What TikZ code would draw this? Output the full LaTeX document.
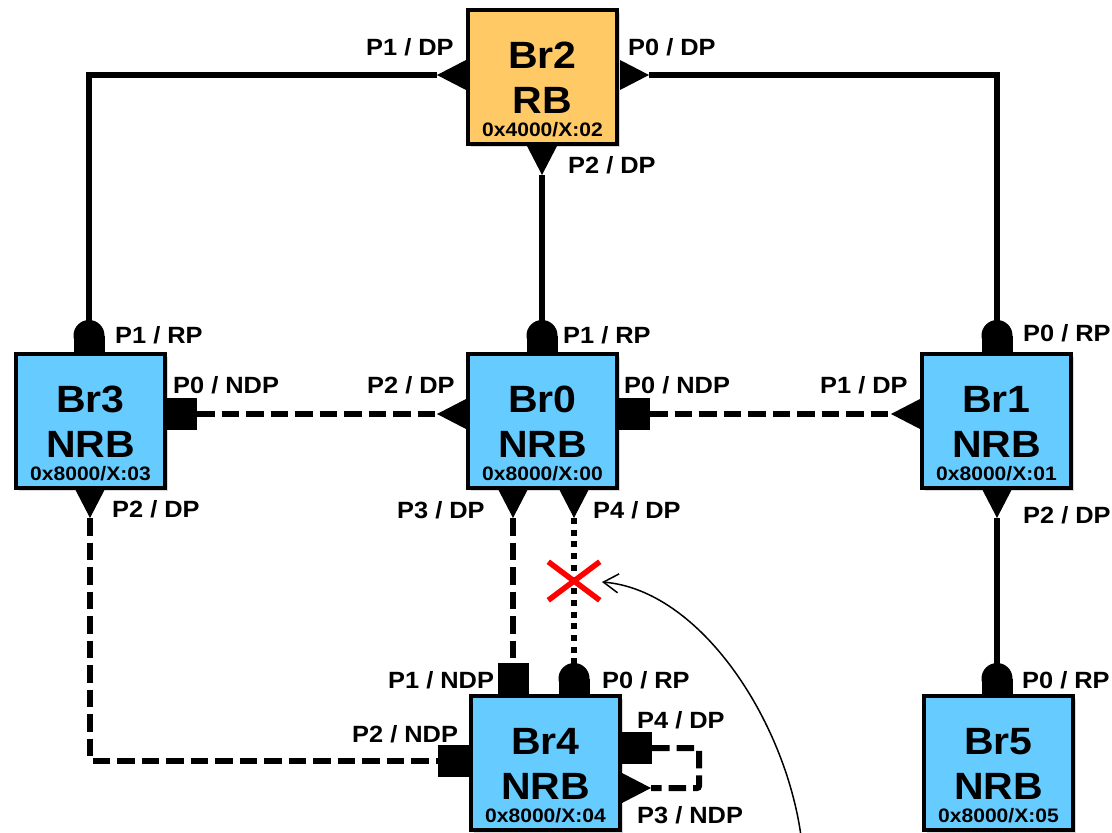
\documentclass[tikz,border=0pt]{standalone}
\usepackage{fontspec}
\setmainfont{Liberation Sans}[FakeStretch=1.08]
\usetikzlibrary{shadows,shapes.misc,arrows.meta}
\definecolor{rbfill}{RGB}{255,201,102}
\definecolor{nrbfill}{RGB}{102,204,255}
\definecolor{xred}{RGB}{255,0,0}
\newcommand\bridge[7]{%
  \node[bbox, fill=#4] (#1) at ({#2},{#3+68.75}) {};
  \node[ttl, anchor=base] (#1-name) at ({#2},{#3+60}) {#5};
  \node[ttl, anchor=base] (#1-kind) at ({#2},{#3+105.5}) {#6};
  \node[hexlbl, anchor=base] (#1-id) at ({#2},{#3+128.5}) {#7};
}
\newcommand\dpL[1]{\fill (#1) -- ++(29,-15) -- ++(0,30) -- cycle;}
\newcommand\dpR[1]{\fill (#1) -- ++(-29,-15) -- ++(0,30) -- cycle;}
\newcommand\dpD[1]{\fill (#1) -- ++(-15,-29) -- ++(30,0) -- cycle;}
\newcommand\rpT[1]{\fill (#1) circle[radius=15.5pt]; \fill (#1) ++(-15.5,0) rectangle ++(31,17.5);}
% NDP blocks, coordinate at the outer edge midpoint
\newcommand\ndpRt[1]{\fill (#1) ++(-31,-16) rectangle ++(31,32);}
\newcommand\ndpLt[1]{\fill (#1) ++(0,-16) rectangle ++(31,32);}
\newcommand\ndpUp[1]{\fill (#1) ++(-15.5,0) rectangle ++(31,31.5);}
\begin{document}
\begin{tikzpicture}[x=1pt,y=-1pt,
  bbox/.style={draw=black, line width=4pt, minimum width=149pt, minimum height=133.5pt, inner sep=0pt,
    drop shadow={shadow xshift=3pt, shadow yshift=-3pt, opacity=0.3}},
  ttl/.style={font=\bfseries\fontsize{38}{40}\selectfont, inner sep=0pt},
  hexlbl/.style={font=\bfseries\fontsize{19.5}{22}\selectfont, inner sep=0pt},
  plbl/.style={font=\bfseries\fontsize{23.5}{26}\selectfont, inner sep=0pt, anchor=base west},
  wire/.style={line width=5.5pt},
  dwire/.style={line width=6pt, dash pattern=on 17.5pt off 7pt},
  owire/.style={line width=6pt, dash pattern=on 6pt off 5.7pt}]
\useasboundingbox (0,0) rectangle (1112,833);

% bridges
\bridge{br2}{542.5}{8}{rbfill}{Br2}{RB}{0x4000/X:02}
\bridge{br3}{90.5}{352}{nrbfill}{Br3}{NRB}{0x8000/X:03}
\bridge{br0}{542.5}{352}{nrbfill}{Br0}{NRB}{0x8000/X:00}
\bridge{br1}{996.5}{352}{nrbfill}{Br1}{NRB}{0x8000/X:01}
\bridge{br4}{545.5}{694}{nrbfill}{Br4}{NRB}{0x8000/X:04}
\bridge{br5}{998.5}{694}{nrbfill}{Br5}{NRB}{0x8000/X:05}

% port coordinates
\coordinate (b2p1) at (437,75);
\coordinate (b2p0) at (649,75);
\coordinate (b2p2) at (542,175);
\coordinate (b3p1) at (89,335.5);
\coordinate (b3p0) at (197,414);
\coordinate (b3p2) at (90,518);
\coordinate (b0p1) at (542,335.5);
\coordinate (b0p2) at (437,414);
\coordinate (b0p0) at (650,414);
\coordinate (b0p3) at (513,518);
\coordinate (b0p4) at (574,518);
\coordinate (b1p0) at (997,335.5);
\coordinate (b1p1) at (891,414);
\coordinate (b1p2) at (997,518);
\coordinate (b4p1) at (513,663);
\coordinate (b4p0) at (574,678.5);
\coordinate (b4p2) at (438,760.5);
\coordinate (b4p4) at (652,748);
\coordinate (b4p3) at (651,788);
\coordinate (b4loop) at (699,768);
\coordinate (b5p0) at (997,678.5);

% wires
\draw[wire] (b2p1) -| (b3p1);
\draw[wire] (b2p0) -| (b1p0);
\draw[wire] (b2p2) -- (b0p1);
\draw[wire] (b1p2) -- (b5p0);
\draw[dwire] (b3p0) -- (b0p2);
\draw[dwire] (b0p0) -- (b1p1);
\draw[dwire] (b3p2) |- (b4p2);
\draw[dwire] (b0p3) -- (b4p1);
\draw[owire] (b0p4) -- (b4p0);
\draw[dwire, rounded corners=2pt] (b4p4) -| (b4loop) |- (b4p3);

% ports
\dpL{b2p1} \dpR{b2p0} \dpD{b2p2}
\rpT{b3p1} \ndpRt{b3p0} \dpD{b3p2}
\rpT{b0p1} \dpL{b0p2} \ndpRt{b0p0} \dpD{b0p3} \dpD{b0p4}
\rpT{b1p0} \dpL{b1p1} \dpD{b1p2}
\ndpUp{b4p1} \rpT{b4p0} \ndpLt{b4p2} \ndpRt{b4p4} \dpR{b4p3}
\rpT{b5p0}

% red cross and arrow
\node[cross out, draw=xred, line width=5.5pt, minimum width=46pt, minimum height=33pt, inner sep=0pt] (xmark) at (574,581) {};
\coordinate (cstart) at (801,836);
\coordinate (atip) at (602,582);
\draw[line width=1.5pt, -{Straight Barb[length=15pt,width=19pt,line width=1.5pt]}] (cstart) .. controls (785,720) and (700,590) .. (atip);

% port labels
\node[plbl] (l2a) at (366,55) {P1 / DP};
\node[plbl] (l2b) at (628,55) {P0 / DP};
\node[plbl] (l2c) at (568,173) {P2 / DP};
\node[plbl] (l3a) at (115,343) {P1 / RP};
\node[plbl] (l3b) at (173,393) {P0 / NDP};
\node[plbl] (l3c) at (112,517) {P2 / DP};
\node[plbl] (l0a) at (367,393) {P2 / DP};
\node[plbl] (l0b) at (563,343) {P1 / RP};
\node[plbl] (l0c) at (624,393) {P0 / NDP};
\node[plbl] (l0d) at (397,518) {P3 / DP};
\node[plbl] (l0e) at (593,518) {P4 / DP};
\node[plbl] (l1a) at (820,393) {P1 / DP};
\node[plbl] (l1b) at (1023,341) {P0 / RP};
\node[plbl] (l1c) at (1023,523) {P2 / DP};
\node[plbl] (l4a) at (388,688) {P1 / NDP};
\node[plbl] (l4b) at (602,688) {P0 / RP};
\node[plbl] (l4c) at (352,742) {P2 / NDP};
\node[plbl] (l4d) at (637,728) {P4 / DP};
\node[plbl] (l4e) at (637,823) {P3 / NDP};
\node[plbl] (l5a) at (1022,688) {P0 / RP};
\end{tikzpicture}
\end{document}
